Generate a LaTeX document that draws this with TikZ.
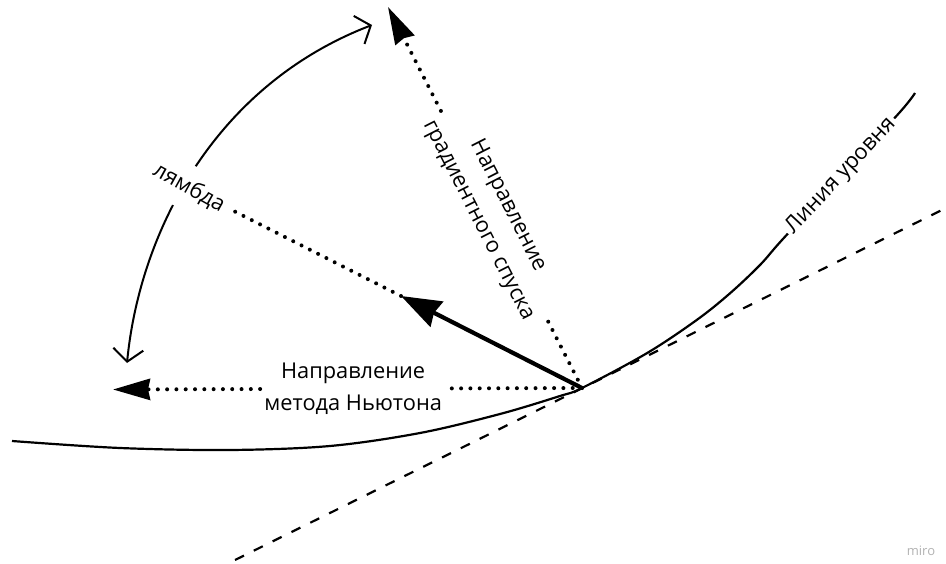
\documentclass[tikz,border=0pt]{standalone}
\usepackage{fontspec}
\setmainfont{Open Sans}
\usetikzlibrary{arrows.meta,calc}
\begin{document}
\begin{tikzpicture}[x=1pt,y=-1pt,
  lvl/.style={line width=2.2pt},
  tangentline/.style={line width=2.2pt, dash pattern=on 10pt off 11pt},
  dotline/.style={line width=4pt, dash pattern=on 0pt off 9.3pt, line cap=round},
  bighead/.style={-{Stealth[length=37pt,width=21pt,inset=2pt]}},
  thickarrow/.style={line width=4.2pt, -{Stealth[length=40pt,width=28pt,inset=3pt]}},
  arcarrow/.style={line width=2pt, {Straight Barb[length=12.5pt,width=30pt]}-{Straight Barb[length=12.5pt,width=30pt]}},
  lbl/.style={font=\fontsize{21.8}{31.5}\selectfont, align=center, inner sep=4pt},
  wm/.style={font=\fontsize{13}{15}\selectfont, text=black!30, inner sep=0pt}
]
\useasboundingbox (0,0) rectangle (946,564);

% key points
\coordinate (O) at (582,388);
\coordinate (N) at (113,389.5);
\coordinate (G) at (388,7);
\coordinate (T) at (401,296);

% tangent line
\coordinate (D1) at (235,560);
\coordinate (D2) at (946,208);
\draw[tangentline] (D1) -- (D2);

% level curve
\draw[lvl] plot[smooth, tension=0.55] coordinates {
  (12,441) (120,448) (230,450) (330,446) (420,433) (500,414) (560,396) (582,388)
  (646.7,353.3) (696.7,320) (730,293.3) (760,265) (782,240) (841,176) (900,112) (915,93)};
\node[lbl, fill=white, rotate=47, inner xsep=3pt, inner ysep=6pt] (lv) at (841,176) {Линия уровня};

% lambda arc
\draw[arcarrow] (127,363) .. controls (140,230) and (216,85) .. (372,25);
\node[lbl, fill=white, rotate=-29, inner xsep=4pt, inner ysep=12pt] (lam) at ($(O)!2.17!(T)$) {лямбда};

% labels on directions
\node[lbl] (nl) at ($(O)!0.488!(N)$) {Направление\\метода Ньютона};
\node[lbl, rotate=-63, font=\fontsize{21.8}{33}\selectfont] (gl) at ($(O)!0.459!(G)$) {Направление\\градиентного спуска};

% Newton direction
\draw[dotline] (O) -- (nl);
\draw[dotline, bighead] (nl) -- (N);

% gradient direction
\draw[dotline] (O) -- (gl);
\draw[dotline, bighead] (gl) -- (G);

% step direction
\draw[dotline] (T) -- (lam);
\draw[thickarrow] (O) -- (T);

% watermark
\node[wm] (miro) at (921,551) {miro};
\end{tikzpicture}
\end{document}
